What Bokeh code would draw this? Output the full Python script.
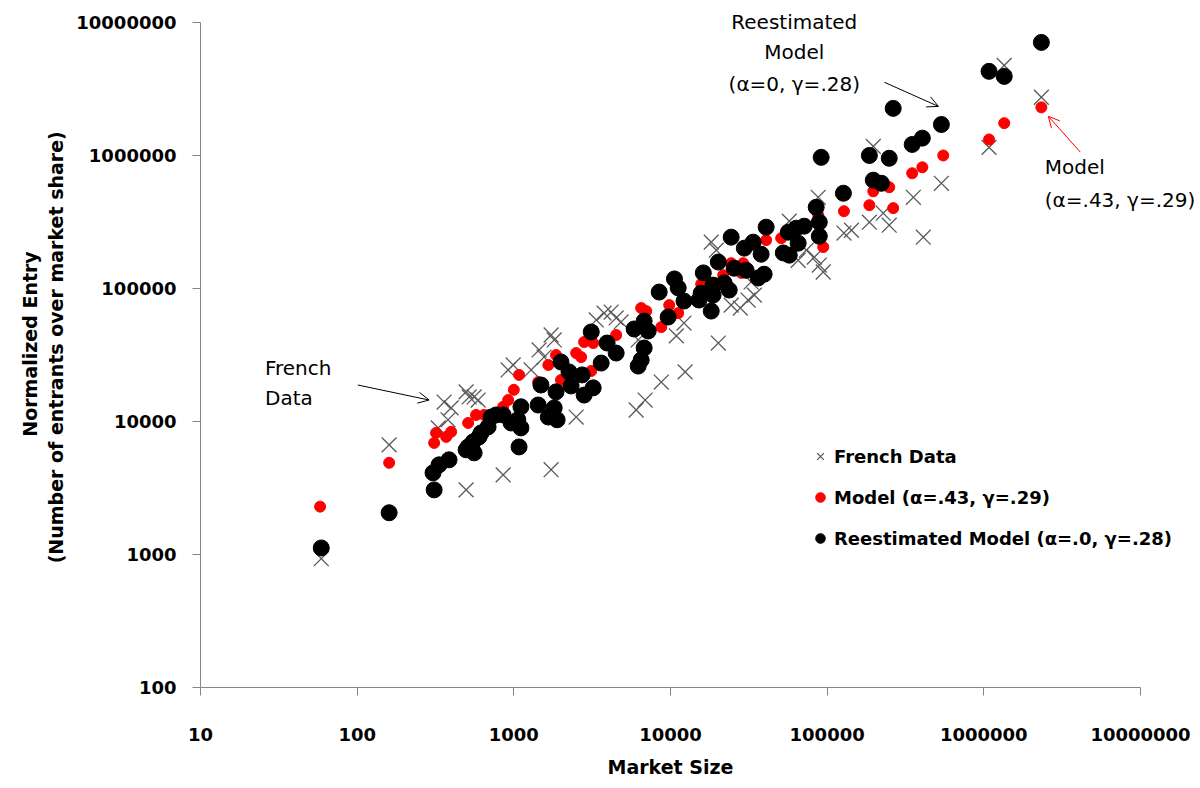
import numpy as np
from bokeh.plotting import figure
from bokeh.models import Range1d, FixedTicker, NumeralTickFormatter, Label, Arrow, OpenHead, Title
from bokeh.embed import file_html
from bokeh.resources import INLINE

# ---- data ----
french_size = [59, 160, 359, 398, 380, 329, 519, 592, 496, 496, 558, 920, 990, 1290, 1450, 1560,
               1730, 1810, 855, 1730, 2500, 3360, 3770, 4180, 4500, 4840, 6040, 6890, 8730, 12400,
               10900, 20200, 18200, 19600, 24400, 27900, 31300, 34300, 57300, 65300, 73600, 82800,
               89100, 94400, 87700, 128000, 186000, 249000, 228000, 197000, 355000, 411000, 536000,
               143000, 1080000, 1350000, 2330000, 12200, 6220, 32700]
french_entry = [930, 6670, 14000, 12650, 10300, 8950, 15300, 14500, 3060, 16700, 15300, 24400, 26600,
                24400, 34500, 30500, 44700, 41000, 3970, 4340, 10800, 58000, 65300, 66500, 60000,
                56000, 12200, 14500, 19800, 23600, 44000, 38900, 223000, 194000, 75000, 71300, 81900,
                89100, 321000, 163000, 194000, 172000, 150000, 133000, 485000, 261000, 315000, 299000,
                368000, 1170000, 485000, 243000, 618000, 274000, 1150000, 4760000, 2740000, 55000,
                41000, 112000]

model_size = [58, 160, 310, 319, 370, 398, 511, 574, 646, 855, 920, 1000, 1080, 1430, 1660, 1860,
              2000, 2500, 2690, 3120, 2810, 3210, 4500, 6500, 7000, 8730, 9820, 11200, 15700, 18200,
              21700, 24400, 29100, 40800, 50900, 87700, 94400, 128000, 186000, 197000, 249000,
              264000, 349000, 405000, 551000, 1080000, 1350000, 2330000, 28300]
model_entry = [2290, 4890, 6900, 8210, 7660, 8360, 9750, 11200, 11200, 12900, 14500, 17300, 22400,
               19800, 26600, 31600, 20500, 32700, 30500, 24000, 39600, 38900, 44700, 71300, 67600,
               51300, 75000, 65300, 108000, 110000, 126000, 155000, 155000, 231000, 239000, 356000,
               205000, 381000, 423000, 538000, 577000, 402000, 735000, 815000, 1000000, 1320000,
               1750000, 2300000, 131000]

reest_size = [59, 160, 310, 305, 333, 386, 511, 558, 600, 685,
              496, 550, 618, 716, 771, 855, 961, 1060, 1110, 1110,
              1080, 1430, 1490, 1660, 1890, 1810, 1860, 2000, 2250, 2320,
              2730, 2810, 3210, 3120, 3940, 4500, 3610, 5860, 6790, 7210,
              6790, 6500, 6220, 8470, 10600, 11200, 12200, 9660, 15200, 15700,
              18700, 18200, 18700, 16200, 20200, 22000, 23700, 24400, 25500, 30400,
              29600, 33700, 37900, 39600, 36300, 40800, 52500, 57300, 56500, 63500,
              71400, 65300, 85100, 89100, 89100, 91600, 127000, 186000, 249000, 197000,
              222000, 264000, 349000, 405000, 536000, 1080000, 1350000, 2330000]
reest_entry = [1120, 2060, 3060, 4110, 4720, 5150, 6440, 5810, 7660, 9100,
               6120, 7030, 8210, 10800, 11200, 11200, 9750, 10300, 12900, 8950,
               6440, 13300, 18800, 10800, 10300, 12650, 16700, 28000, 23600, 18500,
               22400, 15800, 17900, 47100, 38900, 32700, 27500, 49600, 56900, 47900,
               35700, 29000, 26100, 94000, 118000, 101000, 80400, 61000, 81900, 92300,
               89100, 67600, 106000, 131000, 158000, 110000, 97300, 243000, 142000, 137000,
               201000, 223000, 181000, 128000, 120000, 289000, 185000, 178000, 265000, 284000,
               294000, 219000, 408000, 315000, 247000, 968000, 520000, 1000000, 953000, 652000,
               618000, 2260000, 1210000, 1350000, 1710000, 4290000, 3930000, 7080000]

x_ticks = [10, 100, 1000, 10000, 100000, 1000000, 10000000]
y_ticks = [100, 1000, 10000, 100000, 1000000, 10000000]

FONT = "DejaVu Sans"

# axes span 10..1e7 (x) and 100..1e7 (y); the frame is a little larger so that
# annotations to the right of / above the axes are not clipped
X_EXTRA = 10 ** (60 / 156.6)
Y_EXTRA = 10 ** (22 / 133.2)

p = figure(width=1200, height=788, x_axis_type="log", y_axis_type="log",
           x_range=Range1d(10, 1e7 * X_EXTRA), y_range=Range1d(100, 1e7 * Y_EXTRA),
           output_backend="svg", toolbar_location=None,
           min_border_left=200, min_border_right=0, min_border_top=0, min_border_bottom=100)
p.xgrid.visible = False
p.ygrid.visible = False
p.outline_line_color = None
p.background_fill_color = "white"

for ax, ticks in ((p.xaxis[0], x_ticks), (p.yaxis[0], y_ticks)):
    ax.ticker = FixedTicker(ticks=ticks, minor_ticks=[])
    ax.bounds = (ticks[0], ticks[-1])
    ax.formatter = NumeralTickFormatter(format="0")
    ax.axis_line_color = "#868686"
    ax.major_tick_line_color = "#868686"
    ax.major_tick_in = 0
    ax.major_tick_out = 8
    ax.minor_tick_line_color = None
    ax.major_label_text_font = FONT
    ax.major_label_text_font_style = "bold"
    ax.major_label_text_font_size = "18px"
    ax.major_label_text_color = "black"
    ax.axis_label_text_font = FONT
    ax.axis_label_text_font_style = "bold"
    ax.axis_label_text_font_size = "19px"
    ax.axis_label_text_color = "black"

p.xaxis.major_label_standoff = 32
p.yaxis.major_label_standoff = 16
p.yaxis.axis_label = "Normalized Entry\n(Number of entrants over market  share)"
p.yaxis.axis_label_standoff = 6

xt = Title(text="Market Size", align="left", offset=407, text_font=FONT,
           text_font_style="bold", text_font_size="19px", text_color="black", standoff=21)
p.add_layout(xt, "below")

p.scatter(french_size, french_entry, marker="x", size=21, line_color="#5a5a5a",
          line_width=1.3, legend_label="French Data")
p.scatter(model_size, model_entry, marker="circle", size=11, fill_color="#ff0000",
          line_color="#ff0000", legend_label="Model (\u03b1=.43, \u03b3=.29)")
p.scatter(reest_size, reest_entry, marker="circle", size=16, fill_color="black",
          line_color="black", legend_label="Reestimated Model (\u03b1=.0, \u03b3=.28)")

lg = p.legend[0]
lg.location = (608, 137)
lg.background_fill_alpha = 0
lg.border_line_color = None
lg.glyph_width = 24
lg.glyph_height = 24
lg.spacing = 17
lg.padding = 0
lg.margin = 0
lg.label_standoff = 2
lg.label_text_font = FONT
lg.label_text_font_style = "bold"
lg.label_text_font_size = "18px"
lg.label_text_color = "black"

def add_label(x, y, text, align="left", color="black"):
    p.add_layout(Label(x=x, y=y, text=text, text_font=FONT, text_font_size="20px",
                       text_align=align, text_baseline="middle", text_color=color))

add_label(25.8, 25200, "French")
add_label(25.8, 15000, "Data")
add_label(61700, 1.0e7, "Reestimated", align="center")
add_label(61700, 5.96e6, "Model", align="center")
add_label(61700, 3.43e6, "(\u03b1=0, \u03b3=.28)", align="center")
add_label(2.45e6, 815000, "Model")
add_label(2.45e6, 461000, "(\u03b1=.43, \u03b3=.29)")

p.add_layout(Arrow(end=OpenHead(size=11, line_color="black", line_width=1),
                   x_start=101, y_start=18800, x_end=288, y_end=14500,
                   line_color="black", line_width=1))
p.add_layout(Arrow(end=OpenHead(size=11, line_color="black", line_width=1),
                   x_start=232000, y_start=3.55e6, x_end=513000, y_end=2.34e6,
                   line_color="black", line_width=1))
p.add_layout(Arrow(end=OpenHead(size=11, line_color="#ff0000", line_width=1),
                   x_start=4.13e6, y_start=1.06e6, x_end=2.58e6, y_end=1.97e6,
                   line_color="#ff0000", line_width=1))

open("out.html", "w").write(file_html(p, INLINE))
